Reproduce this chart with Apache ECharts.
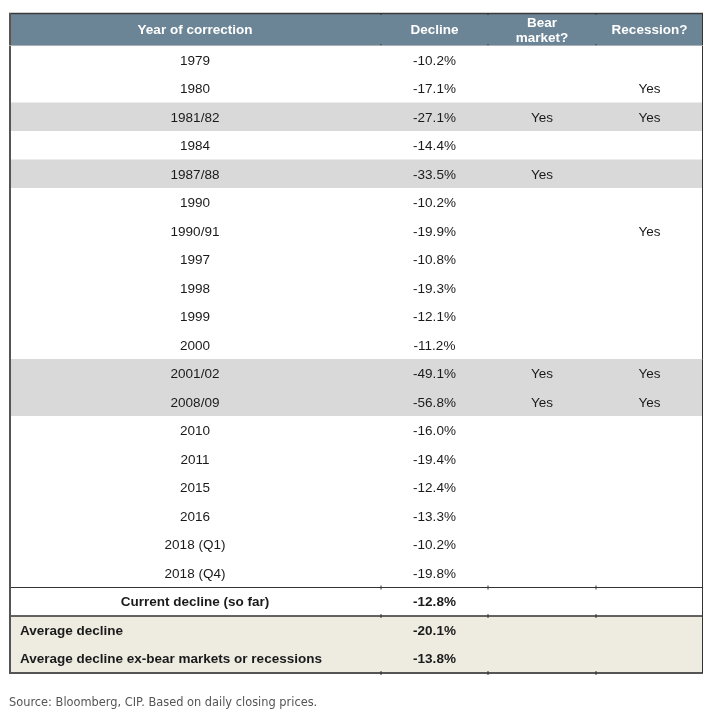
<!DOCTYPE html>
<html>
<head>
<meta charset="utf-8">
<script src="https://cdn.jsdelivr.net/npm/echarts@6/dist/echarts.min.js"></script>
<style>html,body{margin:0;padding:0;background:#fff;}#main{width:710px;height:719px;}</style>
</head>
<body>
<div id="main"></div>
<script>
const headers = ['Year of correction', 'Decline', 'Bear\nmarket?', 'Recession?'];
const years = ['1979','1980','1981/82','1984','1987/88','1990','1990/91','1997','1998','1999','2000','2001/02','2008/09','2010','2011','2015','2016','2018 (Q1)','2018 (Q4)'];
const declines = [-10.2,-17.1,-27.1,-14.4,-33.5,-10.2,-19.9,-10.8,-19.3,-12.1,-11.2,-49.1,-56.8,-16.0,-19.4,-12.4,-13.3,-10.2,-19.8];
const bearMarket = ['','','Yes','','Yes','','','','','','','Yes','Yes','','','','','',''];
const recession = ['','Yes','Yes','','','','Yes','','','','','Yes','Yes','','','','','',''];
const summaryLabels = ['Current decline (so far)', 'Average decline', 'Average decline ex-bear markets or recessions'];
const summaryValues = [-12.8, -20.1, -13.8];
const sourceNote = 'Source: Bloomberg, CIP. Based on daily closing prices.';

// layout (not data)
const colEdges = [0, 372, 479, 587, 694];
const FONT = '"Liberation Sans", Arial, sans-serif';
const TXT_DY = 1;
const fmt = v => v.toFixed(1) + '%';
const nRows = years.length + summaryLabels.length;
const rowCats = years.concat(summaryLabels);

function cellText(x, y, text, opts) {
  return {
    type: 'text',
    style: Object.assign({
      x: x, y: y + TXT_DY, text: text,
      fill: '#1a1a1a',
      font: 'normal 13.5px ' + FONT,
      textAlign: 'center', textVerticalAlign: 'middle'
    }, opts || {})
  };
}
function hline(x1, x2, y, color, w) {
  return { type: 'line', shape: { x1: x1, y1: y, x2: x2, y2: y }, style: { stroke: color, lineWidth: w } };
}
function vline(x, y1, y2, color, w) {
  return { type: 'line', shape: { x1: x, y1: y1, x2: x, y2: y2 }, style: { stroke: color, lineWidth: w } };
}

function renderHeader(params, api) {
  const idx = api.value(1);
  const c = api.coord([0, idx]);
  const h = api.size([0, 1])[1];
  const top = c[1] - h / 2, bot = c[1] + h / 2;
  const xs = colEdges.map(e => api.coord([e, idx])[0]);
  const children = [{
    type: 'rect', shape: { x: xs[0], y: top, width: xs[4] - xs[0], height: h },
    style: { fill: '#6b8596' }
  }];
  for (let k = 0; k < 4; k++) {
    children.push(cellText((xs[k] + xs[k + 1]) / 2, c[1] + (k === 2 ? 0.5 : 0), headers[k], {
      fill: '#ffffff', font: 'bold 13.5px ' + FONT, lineHeight: 15.5
    }));
  }
  children.push(hline(xs[0], xs[4], top + 0.5, '#3a3a3a', 1.5));
  children.push(hline(xs[0], xs[4], bot, '#3a3a3a', 1));
  children.push(vline(xs[0] + 1, top, bot, '#555', 2));
  children.push(vline(xs[4] - 0.5, top, bot, '#333', 1));
  for (let k = 1; k < 4; k++) {
    children.push(vline(xs[k], top, top + 2, '#333', 1));
    children.push(vline(xs[k], bot - 2, bot, '#333', 1));
  }
  return { type: 'group', children: children };
}

function renderBody(params, api) {
  const idx = api.value(1);
  const c = api.coord([0, idx]);
  const h = api.size([0, 1])[1];
  const top = c[1] - h / 2;
  const xs = colEdges.map(e => api.coord([e, idx])[0]);
  const mid = k => (xs[k] + xs[k + 1]) / 2;
  const children = [];
  let fill = '#ffffff';
  const nYears = years.length;
  if (idx < nYears) {
    if (bearMarket[idx] === 'Yes') fill = '#d9d9d9';
  } else if (idx > nYears) {
    fill = '#eeebe1';
  }
  children.push({ type: 'rect', shape: { x: xs[0], y: top - 0.5, width: xs[4] - xs[0], height: h + 1 }, style: { fill: fill } });
  if (idx < nYears) {
    children.push(cellText(mid(0), c[1], years[idx]));
    children.push(cellText(mid(1), c[1], fmt(declines[idx])));
    children.push(cellText(mid(2), c[1], bearMarket[idx]));
    children.push(cellText(mid(3), c[1], recession[idx]));
  } else {
    const s = idx - nYears;
    if (s === 0) {
      children.push(cellText(mid(0), c[1], summaryLabels[s], { font: 'bold 13.5px ' + FONT }));
    } else {
      children.push(cellText(xs[0] + 11, c[1], summaryLabels[s], { font: 'bold 13.5px ' + FONT, textAlign: 'left' }));
    }
    children.push(cellText(mid(1), c[1], fmt(summaryValues[s]), { font: 'bold 13.5px ' + FONT }));
  }
  return { type: 'group', children: children };
}

function renderBorders(params, api) {
  const nYears = years.length;
  const h = api.size([0, 1])[1];
  const yTop = api.coord([0, 0])[1] - h / 2;
  const yBot = api.coord([0, nRows - 1])[1] + h / 2;
  const xs = colEdges.map(e => api.coord([e, 0])[0]);
  const children = [];
  const ticks = y => { for (let k = 1; k < 4; k++) { children.push(vline(xs[k], y - 2, y + 2, '#333', 1)); } };
  const y1 = api.coord([0, nYears])[1] - h / 2;
  const y2 = api.coord([0, nYears + 1])[1] - h / 2;
  children.push(hline(xs[0], xs[4], y1, '#333', 1));
  ticks(y1);
  children.push(hline(xs[0], xs[4], y2, '#333', 1.5));
  ticks(y2);
  children.push(hline(xs[0], xs[4], yBot, '#555', 2));
  ticks(yBot);
  children.push(vline(xs[0] + 1, yTop, yBot, '#555', 2));
  children.push(vline(xs[4] - 0.5, yTop, yBot, '#333', 1));
  return { type: 'group', children: children };
}

const chart = echarts.init(document.getElementById('main'), null, { renderer: 'canvas' });
chart.setOption({
  animation: false,
  backgroundColor: '#ffffff',
  title: {
    text: sourceNote,
    left: 9, top: 698, padding: 0,
    textStyle: { fontFamily: '"DejaVu Sans", sans-serif', fontSize: 11.4, fontWeight: 'normal', color: '#555555' }
  },
  grid: [
    { left: 9, width: 694, top: 13, height: 33 },
    { left: 9, width: 694, top: 46, height: 627 }
  ],
  xAxis: [
    { gridIndex: 0, type: 'value', min: colEdges[0], max: colEdges[4], show: false },
    { gridIndex: 1, type: 'value', min: colEdges[0], max: colEdges[4], show: false }
  ],
  yAxis: [
    { gridIndex: 0, type: 'category', data: ['header'], inverse: true, show: false },
    { gridIndex: 1, type: 'category', data: rowCats, inverse: true, show: false }
  ],
  series: [
    {
      type: 'custom', xAxisIndex: 0, yAxisIndex: 0, renderItem: renderHeader,
      encode: { x: 0, y: 1 }, data: [[0, 0]], silent: true
    },
    {
      type: 'custom', xAxisIndex: 1, yAxisIndex: 1, renderItem: renderBody,
      encode: { x: 0, y: 1 }, data: rowCats.map((_, i) => [0, i]), silent: true
    },
    {
      type: 'custom', xAxisIndex: 1, yAxisIndex: 1, renderItem: renderBorders,
      encode: { x: 0, y: 1 }, data: [[0, 0]], silent: true, z: 5
    }
  ]
});
</script>
</body>
</html>
